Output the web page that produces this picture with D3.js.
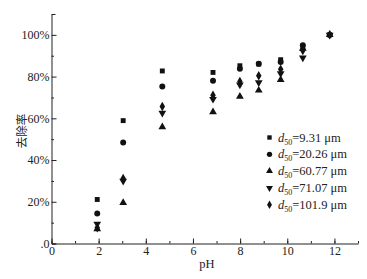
<html>
<head>
<meta charset="UTF-8">
<script src="https://d3js.org/d3.v7.min.js"></script>
<style>
  body { margin: 0; background: #fff; }
  svg text { font-family: 'Liberation Serif', 'DejaVu Serif', serif; fill: #222; }
  .domain, .tick line { stroke: #222; }
</style>
</head>
<body>
<svg id="chart" width="367" height="279"></svg>
<script>
// values (removal rate, %)
const phValues = [1.94, 3.04, 4.70, 6.85, 7.99, 8.79, 9.72, 10.66, 11.8];
const rate931 = [21.1, 58.9, 82.7, 82.0, 85.2, 86.0, 88.1, 94.0, 100];
const rate2026 = [14.4, 48.4, 75.3, 78.0, 83.8, 86.2, 87.0, 95.0, 100];
const rate6077 = [7.0, 19.5, 55.8, 63.0, 70.5, 73.4, 78.5, 93.5, 100];
const rate7107 = [9.4, 30.0, 62.5, 69.2, 76.1, 77.2, 81.5, 89.0, 100];
const rate1019 = [7.6, 31.2, 65.7, 71.0, 77.7, 80.4, 83.5, 92.5, 100];
const seriesNames = ['9.31', '20.26', '60.77', '71.07', '101.9'];
const xTicks = [0, 2, 4, 6, 8, 10, 12];
const yTicks = [0, 20, 40, 60, 80, 100];

const serif = 'Liberation Serif';
const svg = d3.select('#chart');
const x = d3.scaleLinear().domain([0, 13]).range([51.5, 358]);
const y = d3.scaleLinear().domain([0, 110]).range([243.5, 14]);

const shapes = [
  {type: d3.symbolSquare, size: 24, rot: 0},
  {type: d3.symbolCircle, size: 28, rot: 0},
  {type: d3.symbolTriangle, size: 26, rot: 0},
  {type: d3.symbolTriangle, size: 26, rot: 180},
  {type: d3.symbolDiamond, size: 26, rot: 0}
];
const allRates = [rate931, rate2026, rate6077, rate7107, rate1019];

// axes
svg.append('g')
   .attr('transform', `translate(0,${y(0)})`)
   .call(d3.axisBottom(x).tickValues(d3.range(0, 14, 1)).tickSize(-2.5).tickFormat(''))
   .call(g => g.select('.domain').remove());
svg.append('g')
   .attr('transform', `translate(0,${y(0)})`)
   .attr('font-family', serif)
   .call(d3.axisBottom(x).tickValues(xTicks).tickSize(-5).tickPadding(3).tickSizeOuter(0))
   .call(g => g.selectAll('text').attr('font-size', 12).attr('font-family', serif));

svg.append('g')
   .attr('transform', `translate(${x(0)},0)`)
   .call(d3.axisLeft(y).tickValues(d3.range(10, 111, 20)).tickSize(-2.5).tickFormat(''))
   .call(g => g.select('.domain').remove());
svg.append('g')
   .attr('transform', `translate(${x(0)},0)`)
   .call(d3.axisLeft(y).tickValues(yTicks).tickSize(-5).tickPadding(2).tickSizeOuter(-4)
          .tickFormat(d => d === 0 ? '.0' : d + '%'))
   .call(g => g.selectAll('text').attr('font-size', 12).attr('font-family', serif));

// axis titles
svg.append('text')
   .attr('x', 207).attr('y', 268)
   .attr('text-anchor', 'middle').attr('font-size', 12.5)
   .attr('font-family', serif)
   .text('pH');
svg.append('text')
   .attr('transform', 'translate(25.5,131) rotate(-90)')
   .attr('text-anchor', 'middle').attr('font-size', 11.5)
   .style('font-family', '"Noto Sans CJK SC", sans-serif')
   .text('去除率');

// points
allRates.forEach((rates, i) => {
  const sym = d3.symbol().type(shapes[i].type).size(shapes[i].size);
  svg.append('g').selectAll('path')
     .data(rates.map((r, j) => ({ph: phValues[j], r: r})))
     .join('path')
     .attr('d', sym)
     .attr('fill', '#111')
     .attr('transform', d => `translate(${x(d.ph)},${y(d.r)}) rotate(${shapes[i].rot})`);
});

// legend
const legend = svg.append('g');
seriesNames.forEach((name, i) => {
  const ly = 137.5 + i * 16.8;
  legend.append('path')
        .attr('d', d3.symbol().type(shapes[i].type).size(shapes[i].size * 0.8))
        .attr('fill', '#111')
        .attr('transform', `translate(269.5,${ly}) rotate(${shapes[i].rot})`);
  const t = legend.append('text')
        .attr('x', 278).attr('y', ly + 4)
        .attr('font-size', 12.5)
        .attr('font-family', serif);
  t.append('tspan').attr('font-style', 'italic').text('d');
  t.append('tspan').attr('font-size', 8).attr('dy', 3).text('50');
  t.append('tspan').attr('dy', -3).text('=' + name + ' μm');
});
</script>
</body>
</html>
